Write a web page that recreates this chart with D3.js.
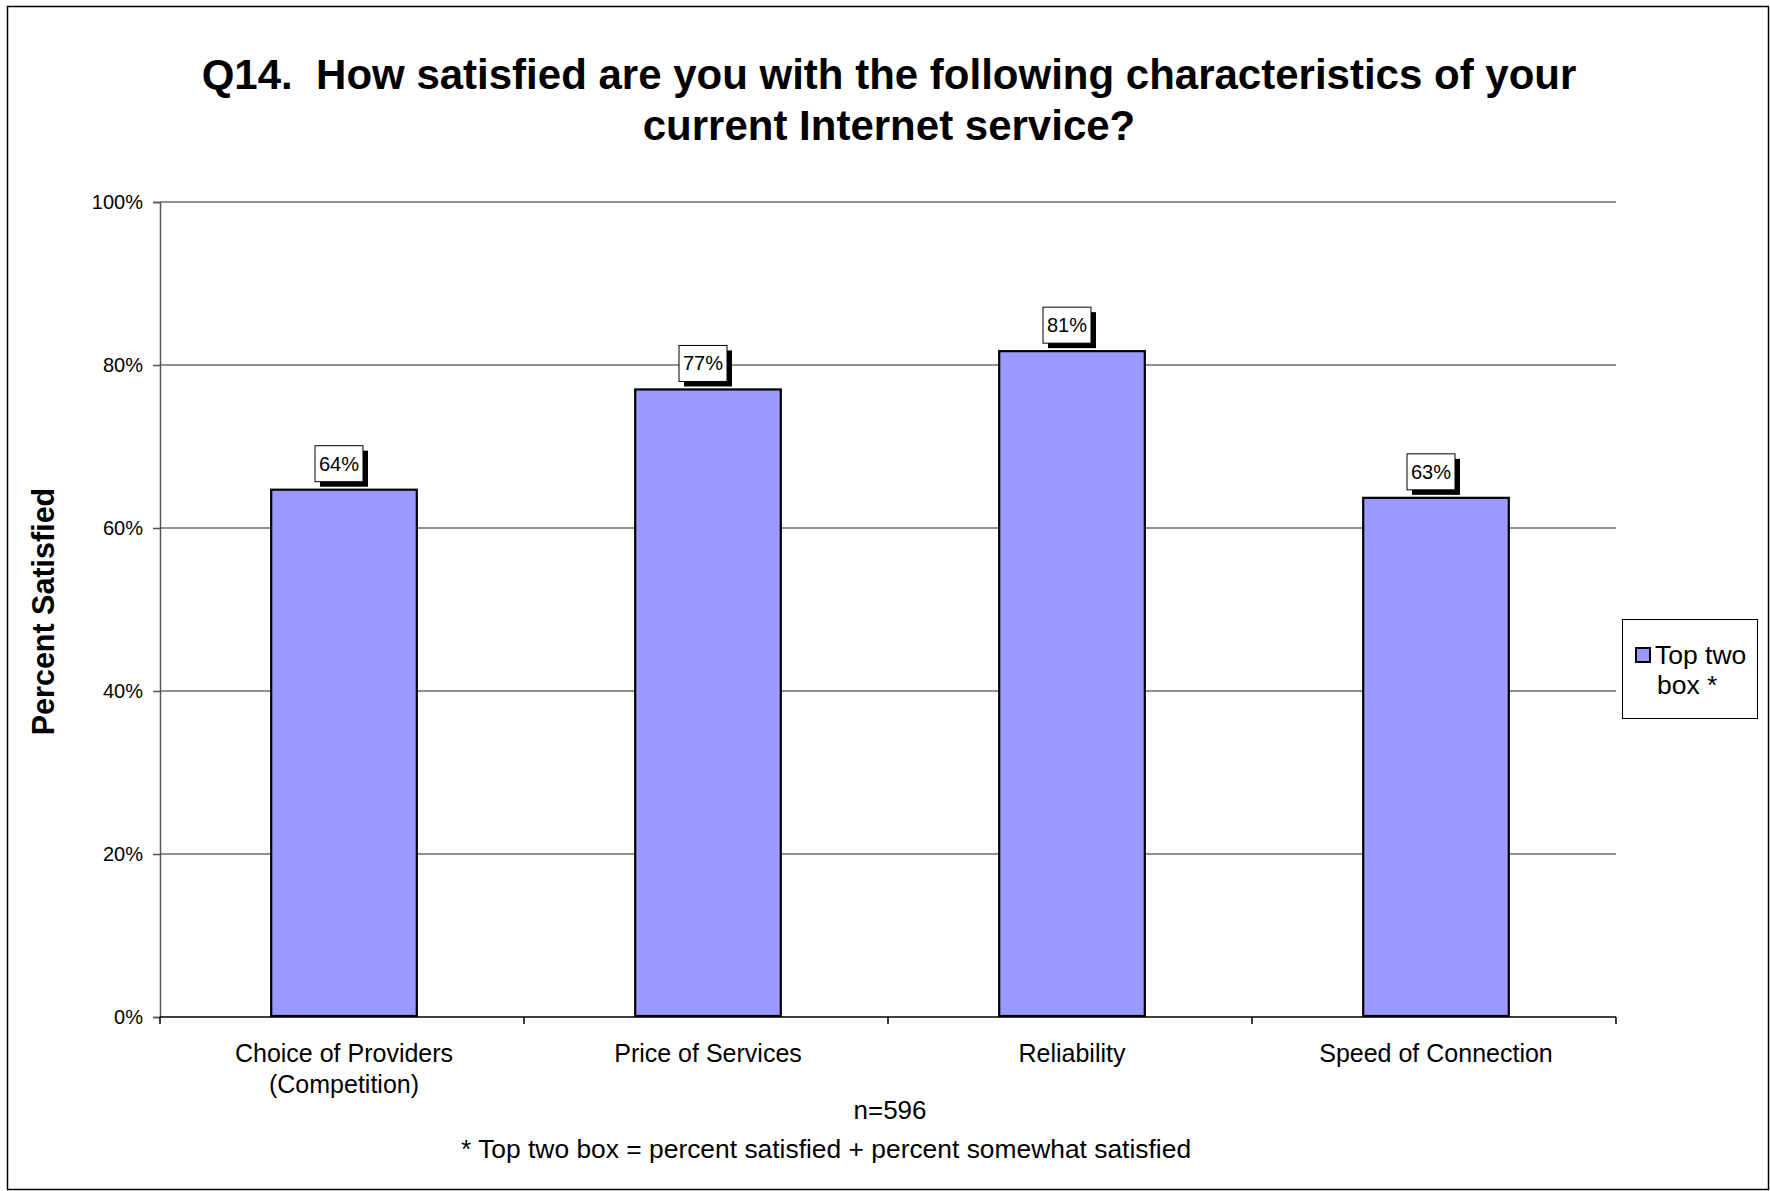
<!DOCTYPE html>
<html><head><meta charset="utf-8">
<script src="https://cdn.jsdelivr.net/npm/d3@7"></script>
<style>body{margin:0;background:#fff;} svg{display:block;font-family:Arial,"Liberation Sans",sans-serif;}</style>
</head><body>
<svg id="chart" width="1770" height="1191"></svg>
<script>
const categories = ["Choice of Providers\n(Competition)", "Price of Services", "Reliability", "Speed of Connection"];
const values = [64.7, 77.0, 81.7, 63.7];
const valueLabels = ["64%", "77%", "81%", "63%"];
const yTicks = [0, 20, 40, 60, 80, 100];
const yTickLabels = ["0%", "20%", "40%", "60%", "80%", "100%"];
const titleLines = ["Q14.  How satisfied are you with the following characteristics of your", "current Internet service?"];
const yAxisTitle = "Percent Satisfied";
const legendLines = ["Top two", "box *"];
const noteN = "n=596";
const footnote = "* Top two box = percent satisfied + percent somewhat satisfied";

const W = 1770, H = 1191;
const plot = {left: 160, right: 1616, top: 202, bottom: 1017};
const barColor = "#9999FF";
const barShift = 2;

const svg = d3.select("#chart");

// outer border
svg.append("rect").attr("x", 7.5).attr("y", 6.5).attr("width", 1761).attr("height", 1183)
  .attr("fill", "#fff").attr("stroke", "#000").attr("stroke-width", 1.5);

// title
svg.append("g").selectAll("text").data(titleLines).join("text")
  .attr("x", 889).attr("y", (d, i) => 89 + i * 51)
  .attr("text-anchor", "middle").style("white-space", "pre")
  .attr("font-size", 42).attr("font-weight", "bold").attr("fill", "#000")
  .text(d => d);

const x = d3.scaleBand().domain(categories).range([plot.left, plot.right])
  .paddingInner(0.6).paddingOuter(0.3);
const y = d3.scaleLinear().domain([0, 100]).range([plot.bottom, plot.top]);

// gridlines
svg.append("g").selectAll("line").data(yTicks.filter(t => t > 0)).join("line")
  .attr("x1", plot.left).attr("x2", plot.right)
  .attr("y1", d => y(d)).attr("y2", d => y(d))
  .attr("stroke", "#6e6e6e").attr("stroke-width", 1.5);

// y axis
const yAxis = d3.axisLeft(y).tickValues(yTicks).tickSize(7).tickPadding(10)
  .tickFormat((d, i) => yTickLabels[i]);
const gy = svg.append("g").attr("transform", `translate(${plot.left},0)`).call(yAxis);
gy.select(".domain").attr("stroke", "#555").attr("stroke-width", 1.5);
gy.selectAll(".tick line").attr("stroke", "#555").attr("stroke-width", 1.5);
gy.selectAll(".tick text").attr("font-size", 20).attr("font-family", "Arial, 'Liberation Sans', sans-serif").attr("fill", "#000");

// x baseline and category boundary ticks
const bounds = d3.range(categories.length + 1).map(i => plot.left + i * x.step() / (1) * 1 - (i > 0 ? 0 : 0));
const boundsAdj = d3.range(categories.length + 1).map(i => plot.left + i * (plot.right - plot.left) / categories.length);
svg.append("line").attr("x1", plot.left).attr("x2", plot.right)
  .attr("y1", plot.bottom).attr("y2", plot.bottom).attr("stroke", "#000").attr("stroke-width", 1.5);
svg.append("g").selectAll("line").data(boundsAdj).join("line")
  .attr("x1", d => d).attr("x2", d => d)
  .attr("y1", plot.bottom).attr("y2", plot.bottom + 7)
  .attr("stroke", "#000").attr("stroke-width", 1.5);

// bars
svg.append("g").selectAll("rect").data(values).join("rect")
  .attr("x", (d, i) => x(categories[i]) + barShift)
  .attr("y", d => y(d))
  .attr("width", x.bandwidth())
  .attr("height", d => y(0) - y(d) - 1)
  .attr("fill", barColor).attr("stroke", "#000").attr("stroke-width", 2.2);

// data labels with shadow
const lab = svg.append("g").selectAll("g").data(values).join("g")
  .attr("transform", (d, i) => `translate(${x(categories[i]) + x.bandwidth() / 2 - 3},${y(d) - 26})`);
lab.append("rect").attr("x", -24 + 5).attr("y", -18 + 5).attr("width", 48).attr("height", 36).attr("fill", "#000");
lab.append("rect").attr("x", -24).attr("y", -18).attr("width", 48).attr("height", 36)
  .attr("fill", "#fff").attr("stroke", "#000").attr("stroke-width", 1);
lab.append("text").attr("text-anchor", "middle").attr("y", 7).attr("font-size", 20)
  .text((d, i) => valueLabels[i]);

// category labels
const cl = svg.append("g").selectAll("text").data(categories).join("text")
  .attr("x", d => x(d) + x.bandwidth() / 2 + barShift).attr("y", 1062)
  .attr("text-anchor", "middle").attr("font-size", 25);
cl.selectAll("tspan").data(d => d.split("\n")).join("tspan")
  .attr("x", function() { return this.parentNode.getAttribute("x"); })
  .attr("dy", (d, i) => i === 0 ? 0 : 31).text(d => d);

// y axis title
svg.append("text").attr("transform", `translate(54,${(plot.top + plot.bottom) / 2 + 2}) rotate(-90)`)
  .attr("text-anchor", "middle").attr("font-size", 30.5).attr("font-weight", "bold").text(yAxisTitle);

// legend
const lg = svg.append("g");
lg.append("rect").attr("x", 1622.5).attr("y", 619.5).attr("width", 135).attr("height", 99)
  .attr("fill", "#fff").attr("stroke", "#000").attr("stroke-width", 1);
lg.append("rect").attr("x", 1636).attr("y", 648).attr("width", 14).attr("height", 14)
  .attr("fill", barColor).attr("stroke", "#000").attr("stroke-width", 2);
lg.append("text").attr("x", 1655).attr("y", 664).attr("font-size", 26.5).text(legendLines[0]);
lg.append("text").attr("x", 1657).attr("y", 694).attr("font-size", 26.5).text(legendLines[1]);

// notes
svg.append("text").attr("x", 890).attr("y", 1119).attr("text-anchor", "middle").attr("font-size", 26).text(noteN);
svg.append("text").attr("x", 461).attr("y", 1158).attr("font-size", 26.4).text(footnote);
</script>
</body></html>
